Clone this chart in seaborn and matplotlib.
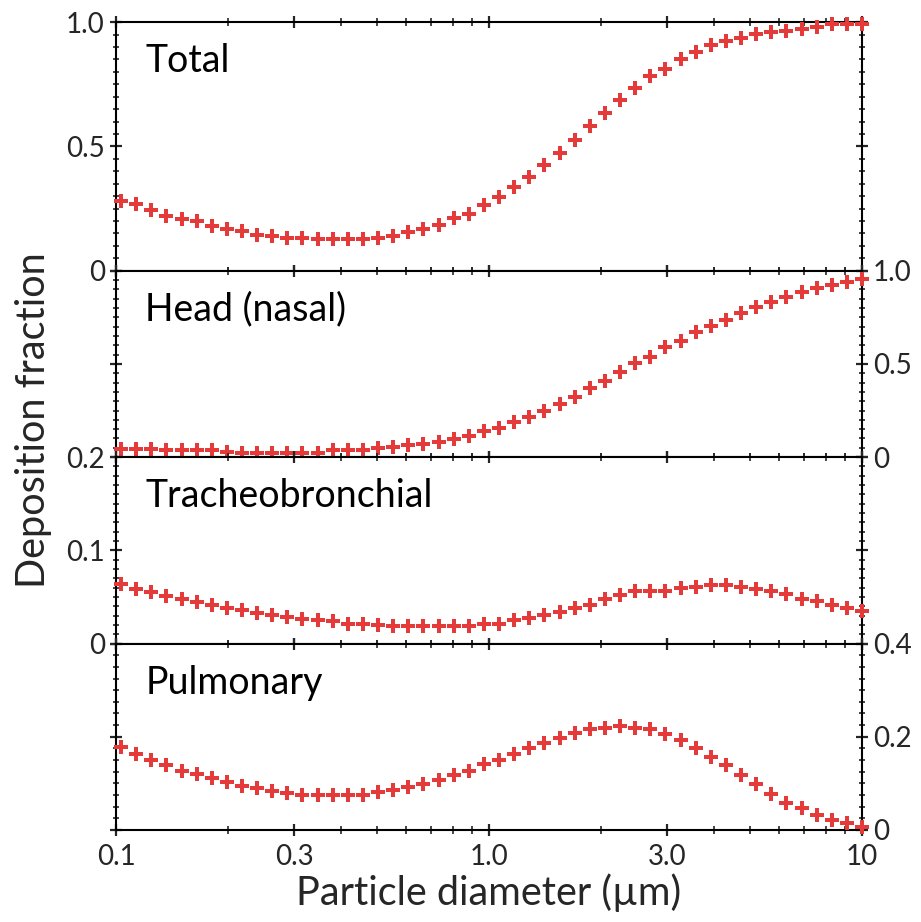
import numpy as np
import pandas as pd
import matplotlib
matplotlib.use("Agg")
import matplotlib.pyplot as plt
import seaborn as sns
from matplotlib.ticker import LogLocator, MultipleLocator, FixedLocator, NullFormatter, FixedFormatter

# ---------------- data ----------------
diameter_um = [0.1031, 0.1132, 0.1243, 0.1365, 0.1498, 0.1645, 0.1806, 0.1983, 0.2177, 0.2389,
               0.2623, 0.2880, 0.3161, 0.3471, 0.3811, 0.4183, 0.4592, 0.5042, 0.5535, 0.6077,
               0.6671, 0.7323, 0.8039, 0.8826, 0.9692, 1.064, 1.168, 1.282, 1.408, 1.546,
               1.697, 1.863, 2.045, 2.245, 2.465, 2.706, 2.971, 3.262, 3.581, 3.931,
               4.315, 4.737, 5.201, 5.710, 6.269, 6.882, 7.554, 8.294, 9.106, 10.0]

total = [0.282, 0.269, 0.245, 0.222, 0.208, 0.198, 0.181, 0.168, 0.159, 0.144,
         0.141, 0.132, 0.132, 0.126, 0.126, 0.128, 0.128, 0.132, 0.141, 0.155,
         0.168, 0.185, 0.212, 0.228, 0.266, 0.296, 0.336, 0.376, 0.426, 0.473,
         0.527, 0.582, 0.634, 0.688, 0.735, 0.784, 0.813, 0.850, 0.880, 0.907,
         0.925, 0.938, 0.954, 0.961, 0.965, 0.974, 0.981, 0.991, 0.992, 0.992]

head = [0.045, 0.045, 0.045, 0.036, 0.036, 0.036, 0.036, 0.027, 0.023, 0.023,
        0.023, 0.023, 0.023, 0.023, 0.036, 0.036, 0.036, 0.048, 0.054, 0.063,
        0.068, 0.080, 0.098, 0.116, 0.138, 0.158, 0.188, 0.214, 0.250, 0.286,
        0.321, 0.370, 0.411, 0.455, 0.504, 0.539, 0.589, 0.625, 0.670, 0.705,
        0.736, 0.771, 0.807, 0.834, 0.861, 0.884, 0.905, 0.923, 0.938, 0.955]

tracheobronchial = [0.0635, 0.0586, 0.0549, 0.0514, 0.0478, 0.0442, 0.0414, 0.0377, 0.0360, 0.0323,
                    0.0306, 0.0288, 0.0263, 0.0252, 0.0244, 0.0215, 0.0215, 0.0198, 0.0191, 0.0191,
                    0.0191, 0.0191, 0.0191, 0.0191, 0.0205, 0.0215, 0.0255, 0.0272, 0.0309, 0.0337,
                    0.0380, 0.0416, 0.0480, 0.0516, 0.0559, 0.0559, 0.0559, 0.0595, 0.0602, 0.0631,
                    0.0631, 0.0602, 0.0588, 0.0559, 0.0530, 0.0480, 0.0452, 0.0416, 0.0380, 0.0344]

pulmonary = [0.177, 0.1636, 0.1494, 0.1388, 0.1275, 0.1203, 0.1105, 0.1026, 0.0942, 0.0906,
             0.0835, 0.0799, 0.0750, 0.0750, 0.0750, 0.0750, 0.0750, 0.0814, 0.0850, 0.0920,
             0.0990, 0.1062, 0.1175, 0.1275, 0.1415, 0.1500, 0.1636, 0.1755, 0.1861, 0.1982,
             0.2073, 0.2158, 0.2194, 0.2237, 0.2194, 0.2158, 0.2052, 0.1933, 0.1755, 0.1563,
             0.1388, 0.1190, 0.0990, 0.0765, 0.0586, 0.0467, 0.0319, 0.0219, 0.0140, 0.0070]

panel_names = ["Total", "Head (nasal)", "Tracheobronchial", "Pulmonary"]
panel_values = [total, head, tracheobronchial, pulmonary]
y_limits = [(0, 1.0), (0, 1.0), (0, 0.2), (0, 0.4)]
y_ticks = [[0, 0.5, 1.0], [0, 0.5, 1.0], [0, 0.1, 0.2], [0, 0.2, 0.4]]
y_ticklabels = [["0", "0.5", "1.0"], ["0", "0.5", "1.0"], ["0", "0.1", "0.2"], ["0", "0.2", "0.4"]]
y_minor_step = [0.05, 0.05, 0.01, 0.025]
label_side = ["left", "right", "left", "right"]
x_ticks = [0.1, 0.3, 1.0, 3.0, 10]
x_ticklabels = ["0.1", "0.3", "1.0", "3.0", "10"]
x_label = "Particle diameter (µm)"
y_label = "Deposition fraction"

# ---------------- style ----------------
sns.set_style("ticks")
plt.rcParams["font.family"] = ["Lato", "DejaVu Sans"]
marker_color = "#E43A3A"

df = pd.DataFrame({
    "diameter": np.tile(diameter_um, len(panel_names)),
    "fraction": np.concatenate([np.asarray(v) for v in panel_values]),
    "region": np.repeat(panel_names, len(diameter_um)),
})

fig = plt.figure(figsize=(9.21, 9.22), dpi=100)
gs = fig.add_gridspec(4, 1, height_ratios=[4, 3, 3, 3], hspace=0,
                      left=0.126, right=0.936, top=0.976, bottom=0.0998)

axes = []
for i, name in enumerate(panel_names):
    ax = fig.add_subplot(gs[i])
    axes.append(ax)
    sub = df[df["region"] == name]
    sns.scatterplot(data=sub, x="diameter", y="fraction", ax=ax, marker="P",
                    s=95, color=marker_color, linewidth=0, clip_on=False,
                    zorder=4, legend=False)
    ax.set_xscale("log")
    ax.set_xlim(0.1, 10)
    ax.set_ylim(*y_limits[i])
    ax.set_xlabel("")
    ax.set_ylabel("")

    for sp in ax.spines.values():
        sp.set_visible(True)
        sp.set_linewidth(1.5)
        sp.set_color("black")

    # x ticks
    ax.xaxis.set_major_locator(FixedLocator(x_ticks))
    ax.xaxis.set_minor_locator(LogLocator(base=10, subs=np.arange(2, 10)))
    ax.xaxis.set_minor_formatter(NullFormatter())
    if i == len(panel_names) - 1:
        ax.xaxis.set_major_formatter(FixedFormatter(x_ticklabels))
        ax.tick_params(axis="x", which="both", labelbottom=True)
    else:
        ax.tick_params(axis="x", which="both", labelbottom=False)
    ax.tick_params(axis="x", which="both", top=True, bottom=True, direction="inout")
    ax.tick_params(axis="x", which="major", length=8, width=1.6, labelsize=20, pad=6)
    ax.tick_params(axis="x", which="minor", length=6, width=1.2)

    # y ticks
    ax.yaxis.set_major_locator(FixedLocator(y_ticks[i]))
    ax.yaxis.set_major_formatter(FixedFormatter(y_ticklabels[i]))
    ax.yaxis.set_minor_locator(MultipleLocator(y_minor_step[i]))
    ax.tick_params(axis="y", which="both", left=True, right=True, direction="inout")
    ax.tick_params(axis="y", which="major", length=8, width=1.6, labelsize=20, pad=4)
    ax.tick_params(axis="y", which="minor", length=5, width=1.2)
    if label_side[i] == "left":
        ax.tick_params(axis="y", which="both", labelleft=True, labelright=False)
    else:
        ax.tick_params(axis="y", which="both", labelleft=False, labelright=True)

    # panel title
    h_px = ax.get_position().height * fig.get_figheight() * fig.dpi
    ax.text(0.039, 1 - 50 / h_px, name, transform=ax.transAxes, fontsize=27,
            ha="left", va="baseline", color="black")

fig.text(0.531, 0.0184, x_label, ha="center", va="baseline", fontsize=28.5)
fig.text(0.036, 0.5445, y_label, ha="center", va="center", rotation=90, fontsize=28.5)

fig.savefig("out.png", dpi=100)
